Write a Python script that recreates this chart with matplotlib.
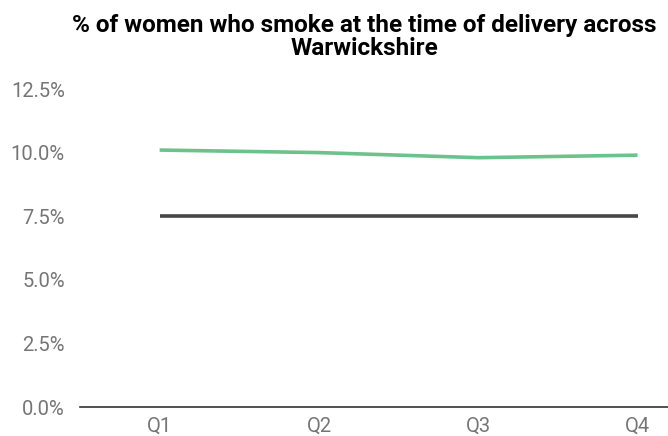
import matplotlib.pyplot as plt

quarters = ['Q1', 'Q2', 'Q3', 'Q4']
warwickshire = [10.1, 10.0, 9.8, 9.9]
target = [7.5, 7.5, 7.5, 7.5]
yticks = [0.0, 2.5, 5.0, 7.5, 10.0, 12.5]

plt.rcParams['font.family'] = ['Roboto', 'DejaVu Sans']

fig = plt.figure(figsize=(6.68, 4.36), dpi=100)
ax = fig.add_axes([80 / 668, (436 - 407) / 436, 588 / 668, (407 - 89) / 436])

x = range(len(quarters))
ax.plot(x, warwickshire, color='#6cc28b', lw=2.6, solid_capstyle='butt')
ax.plot(x, target, color='#474747', lw=2.6, solid_capstyle='butt')

ax.set_xlim(-0.5, (668 - 79.25) / 159.5 - 0.5)
ax.set_ylim(0, 12.5)
ax.set_xticks(list(x))
ax.set_xticklabels(quarters)
ax.set_yticks(yticks)
ax.set_yticklabels(['%.1f%%' % v for v in yticks])
ax.tick_params(length=0, labelsize=14.5, labelcolor='#757575')
ax.tick_params(axis='y', pad=11)
ax.tick_params(axis='x', pad=7)

for s in ['top', 'right', 'left']:
    ax.spines[s].set_visible(False)
ax.spines['bottom'].set_color('#333333')
ax.spines['bottom'].set_linewidth(1.2)

fig.text(364 / 668, 1 - 37 / 436,
         '% of women who smoke at the time of delivery across\nWarwickshire',
         ha='center', va='center', fontsize=17.5, fontweight='bold',
         linespacing=0.95, color='#000000')

fig.savefig('out.png', dpi=100)
